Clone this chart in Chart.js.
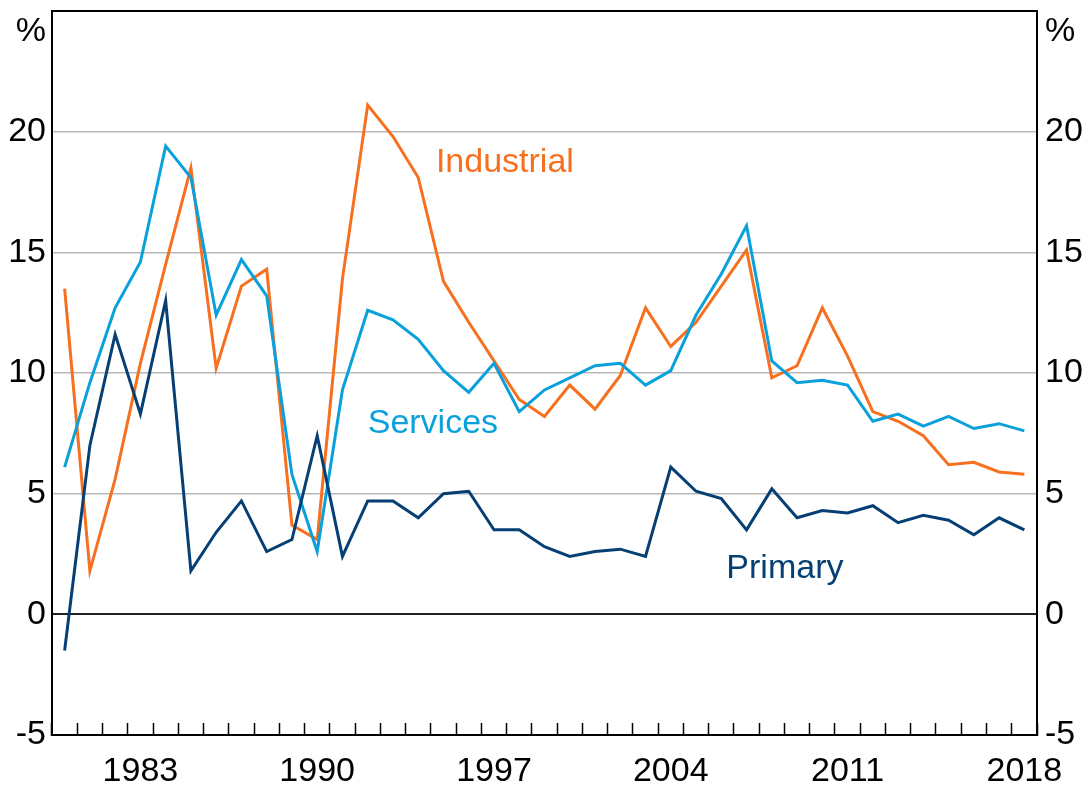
<!DOCTYPE html>
<html>
<head>
<meta charset="utf-8">
<script src="https://cdn.jsdelivr.net/npm/chart.js@4.4.1/dist/chart.umd.min.js"></script>
<style>
  html, body { margin: 0; padding: 0; background: #fff; }
  canvas { display: block; }
</style>
</head>
<body>
<canvas id="chart" width="1089" height="791"></canvas>
<script>
// years 1980 - 2018
var years = [];
for (var y = 1980; y <= 2018; y++) years.push(String(y));

var industrial = [13.5, 1.8, 5.6, 10.4, 14.5, 18.5, 10.2, 13.6, 14.3, 3.7, 3.1, 13.9, 21.1,
  19.8, 18.1, 13.8, 12.1, 10.5, 8.9, 8.2, 9.5, 8.5, 9.9, 12.7, 11.1,
  12.1, 13.6, 15.1, 9.8, 10.3, 12.7, 10.7, 8.4, 8.0, 7.4, 6.2, 6.3, 5.9, 5.8];

var services = [6.1, 9.6, 12.7, 14.6, 19.4, 18.1, 12.4, 14.7, 13.2, 5.8, 2.6, 9.3, 12.6,
  12.2, 11.4, 10.1, 9.2, 10.4, 8.4, 9.3, 9.8, 10.3, 10.4, 9.5, 10.1,
  12.4, 14.1, 16.1, 10.5, 9.6, 9.7, 9.5, 8.0, 8.3, 7.8, 8.2, 7.7, 7.9, 7.6];

var primary = [-1.5, 7.0, 11.6, 8.3, 13.0, 1.8, 3.4, 4.7, 2.6, 3.1, 7.4, 2.4, 4.7,
  4.7, 4.0, 5.0, 5.1, 3.5, 3.5, 2.8, 2.4, 2.6, 2.7, 2.4, 6.1,
  5.1, 4.8, 3.5, 5.2, 4.0, 4.3, 4.2, 4.5, 3.8, 4.1, 3.9, 3.3, 4.0, 3.5];

var xLabelStart = 1983, xLabelStep = 7;

// in-chart series labels: name, x (category index), y (value)
var seriesNames = ['Industrial', 'Services', 'Primary'];
var seriesLabelX = [14.7, 12.0, 26.2];
var seriesLabelY = [18.7, 7.9, 1.9];

var colOrange = '#f7701f';
var colBlue = '#0aa0dc';
var colNavy = '#063f73';
var seriesColors = [colOrange, colBlue, colNavy];

var FONT = 'Arial, "Liberation Sans", sans-serif';
var FS = 34;

var seriesLabels = {
  id: 'seriesLabels',
  afterDatasetsDraw: function(chart) {
    var ctx = chart.ctx, xs = chart.scales.x, ys = chart.scales.y;
    ctx.save();
    ctx.font = FS + 'px ' + FONT;
    ctx.textAlign = 'left';
    ctx.textBaseline = 'middle';
    for (var i = 0; i < seriesNames.length; i++) {
      ctx.fillStyle = seriesColors[i];
      ctx.fillText(seriesNames[i], xs.getPixelForValue(seriesLabelX[i]), ys.getPixelForValue(seriesLabelY[i]));
    }
    ctx.restore();
  }
};

function yTick(v) {
  if (v === 25) return ['', '%'];
  return String(v);
}
function yFit(s) {
  s.width = 52;
  s.paddingTop = 0;
  s.paddingBottom = 0;
}

new Chart(document.getElementById('chart'), {
  type: 'line',
  data: {
    labels: years,
    datasets: [
      { label: 'Primary', data: primary, borderColor: colNavy },
      { label: 'Services', data: services, borderColor: colBlue },
      { label: 'Industrial', data: industrial, borderColor: colOrange }
    ]
  },
  options: {
    responsive: false,
    devicePixelRatio: 1,
    animation: false,
    layout: { padding: { top: 11, left: 0, right: 0, bottom: 0 } },
    elements: {
      line: { borderWidth: 3, tension: 0, fill: false },
      point: { radius: 0 }
    },
    plugins: { legend: { display: false }, tooltip: { enabled: false } },
    scales: {
      x: {
        type: 'category',
        offset: true,
        afterFit: function(s) { s.height = 56; s.paddingLeft = 0; s.paddingRight = 0; },
        grid: {
          offset: true,
          drawOnChartArea: false,
          tickLength: -12,
          tickColor: '#000',
          tickWidth: 1.5
        },
        border: { color: '#000', width: 2 },
        ticks: {
          autoSkip: false,
          maxRotation: 0,
          padding: 28,
          color: '#000',
          font: { family: FONT, size: FS },
          callback: function(v, i) {
            var yr = Number(years[i]);
            return (yr - xLabelStart) % xLabelStep === 0 ? years[i] : '';
          }
        }
      },
      y: {
        position: 'left',
        min: -5, max: 25,
        afterFit: yFit,
        ticks: { stepSize: 5, padding: 6, color: '#000', font: { family: FONT, size: FS }, callback: yTick },
        grid: {
          drawTicks: false,
          lineWidth: function(c) { return c.tick.value === 0 || c.tick.value === 25 ? 2 : 1.5; },
          color: function(c) {
            if (c.tick.value === 0) return '#222';
            if (c.tick.value === 25) return '#000';
            if (c.tick.value === -5) return 'rgba(0,0,0,0)';
            return '#b8b8b8';
          }
        },
        border: { color: '#000', width: 2 }
      },
      y2: {
        position: 'right',
        min: -5, max: 25,
        afterFit: yFit,
        ticks: { stepSize: 5, padding: 8, color: '#000', font: { family: FONT, size: FS }, callback: yTick },
        grid: { drawOnChartArea: false, drawTicks: false },
        border: { color: '#000', width: 2 }
      }
    }
  },
  plugins: [seriesLabels]
});
</script>
</body>
</html>
